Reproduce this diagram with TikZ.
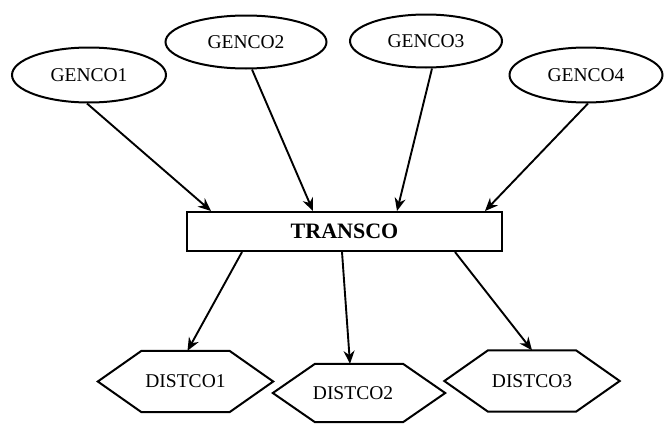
\documentclass[tikz,border=0pt]{standalone}
\usepackage{fontspec}
\setmainfont{Liberation Serif}
\usetikzlibrary{shapes.geometric,arrows.meta}
\tikzset{
  genco/.style={ellipse,draw,line width=2pt,inner sep=0pt,font=\fontsize{19.5}{20}\selectfont},
  transbox/.style={rectangle,draw,line width=2pt,inner sep=0pt,minimum width=315pt,minimum height=39pt,font=\fontsize{22}{24}\selectfont\bfseries},
  distco/.style={inner sep=0pt,minimum width=175pt,minimum height=61pt,font=\fontsize{19.5}{20}\selectfont},
  hexline/.style={line width=2pt,line join=miter},
  conn/.style={line width=1.9pt,-{Stealth[length=13pt,width=11pt]}}
}
\begin{document}
\begin{tikzpicture}[x=1pt,y=-1pt]
\useasboundingbox (0,0) rectangle (668,423);
\node[genco,minimum width=154pt,minimum height=55pt] (g1) at (89,75) {GENCO1};
\node[genco,minimum width=161pt,minimum height=53pt] (g2) at (246,42) {GENCO2};
\node[genco,minimum width=152pt,minimum height=53pt] (g3) at (426,41) {GENCO3};
\node[genco,minimum width=153pt,minimum height=55pt] (g4) at (586,75) {GENCO4};
\node[transbox] (t) at (344.5,231.5) {TRANSCO};
\node[distco] (d1) at (185.5,381.5) {DISTCO1};
\node[distco,minimum width=172pt,minimum height=58pt] (d2) at (359,393) {\hspace*{-12pt}DISTCO2};
\node[distco] (d3) at (532,381) {DISTCO3};
\foreach \n in {d1,d2,d3}
  \draw[hexline] (\n.west) -- ([xshift=-44pt]\n.north) -- ([xshift=44pt]\n.north) -- (\n.east) -- ([xshift=44pt]\n.south) -- ([xshift=-44pt]\n.south) -- cycle;
\draw[conn] ([xshift=-2pt]g1.south) -- ([xshift=25pt]t.north west);
\draw[conn] ([xshift=6pt]g2.south) -- ([xshift=127pt]t.north west);
\draw[conn] ([xshift=6pt]g3.south) -- ([xshift=211pt]t.north west);
\draw[conn] ([xshift=2pt]g4.south) -- ([xshift=299pt]t.north west);
\draw[conn] ([xshift=56pt]t.south west) -- ([xshift=2pt]d1.north);
\draw[conn] ([xshift=156pt]t.south west) -- ([xshift=-9pt]d2.north);
\draw[conn] ([xshift=269pt]t.south west) -- (d3.north);
\end{tikzpicture}
\end{document}
